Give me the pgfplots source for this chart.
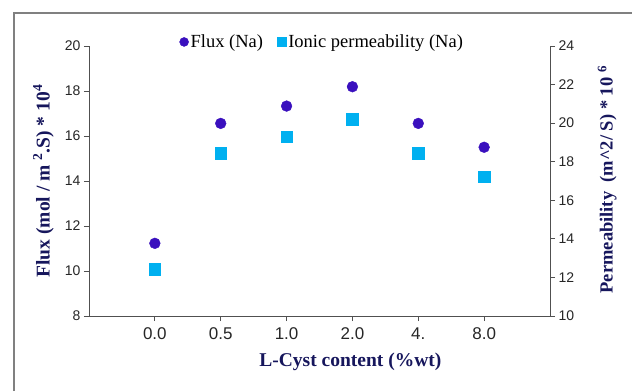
\documentclass[border=0pt]{standalone}
\usepackage{pgfplots}
\pgfplotsset{compat=1.18}
\usepackage{fontspec}
\setmainfont{Liberation Serif}
\newfontfamily\arial{Liberation Sans}
\definecolor{fluxc}{RGB}{58,16,190}
\definecolor{permc}{RGB}{0,176,240}
\definecolor{navy}{RGB}{22,22,92}
\definecolor{axc}{RGB}{80,80,80}
\definecolor{framec}{RGB}{128,128,128}
\begin{document}
\begin{tikzpicture}[x=1pt,y=1pt]
\useasboundingbox (0,0) rectangle (632,391);
\draw[framec,line width=1.2pt] (14,0) -- (14,378) -- (632,378);
\begin{axis}[
  at={(89pt,75pt)}, anchor=south west,
  scale only axis, width=461pt, height=270pt,
  xmin=-1, xmax=6, ymin=8, ymax=20,
  axis x line*=bottom, axis y line*=left,
  axis line style={axc,line width=0.9pt},
  xtick={0,1,2,3,4,5},
  xticklabels={0.0,0.5,1.0,2.0,4.,8.0},
  ytick={8,10,12,14,16,18,20},
  tick style={axc,line width=0.9pt},
  major tick length=5pt,
  tick align=outside,
  x tick label style={font=\arial\fontsize{17}{18}\selectfont, text=black!85, yshift=-3pt},
  y tick label style={font=\arial\fontsize{14}{15}\selectfont, text=black!85},
  /pgf/number format/assume math mode=true,
  xlabel={L-Cyst content (\%wt)},
  xlabel style={font=\bfseries\fontsize{19.5}{20}\selectfont, text=navy, at={(axis description cs:0.567,-0.17)}, anchor=center},
  ylabel={Flux (mol / m \textsuperscript{2}.S) * 10\textsuperscript{4}},
  ylabel style={font=\bfseries\fontsize{19.5}{20}\selectfont, text=navy, at={(axis description cs:-0.099,0.5)}, anchor=center, rotate=0},
  clip=false,
]
\addplot[only marks, mark=*, mark size=5.4pt, fluxc, mark options={draw=fluxc,fill=fluxc}] coordinates {
(0,11.23) (1,16.56) (2,17.33) (3,18.19) (4,16.56) (5,15.5)};
\end{axis}
\begin{axis}[
  at={(89pt,75pt)}, anchor=south west,
  scale only axis, width=461pt, height=270pt,
  xmin=-1, xmax=6, ymin=10, ymax=24,
  axis x line=none, axis y line*=right,
  axis line style={axc,line width=0.9pt},
  ytick={10,12,14,16,18,20,22,24},
  tick style={axc,line width=0.9pt},
  major tick length=5pt,
  tick align=outside,
  y tick label style={font=\arial\fontsize{14}{15}\selectfont, text=black!85},
  /pgf/number format/assume math mode=true,
  ylabel={Permeability\ \ (m\^{}2/ S) * 10 \textsuperscript{6}},
  ylabel style={font=\bfseries\fontsize{18.5}{19}\selectfont, text=navy, at={(axis description cs:1.124,0.505)}, anchor=center, rotate=0},
  legend style={draw=none, fill=none, font=\fontsize{18.5}{19}\selectfont, at={(axis description cs:0.506,1.015)}, anchor=center, /tikz/every even column/.append style={column sep=12pt}},
  legend columns=2,
  legend image code/.code={\draw[#1] plot coordinates {(0pt,0pt)};},
  clip=false,
]
\addlegendimage{only marks, mark=*, mark size=4.5pt, fluxc, mark options={draw=fluxc,fill=fluxc}}
\addlegendentry{Flux (Na)}
\addlegendimage{only marks, mark=square*, mark size=4.6pt, permc, mark options={draw=permc,fill=permc}}
\addlegendentry{Ionic permeability (Na)}
\addplot[only marks, mark=square*, mark size=5.8pt, permc, mark options={draw=permc,fill=permc}, forget plot] coordinates {
(0,12.44) (1,18.43) (2,19.3) (3,20.21) (4,18.43) (5,17.22)};
\end{axis}
\end{tikzpicture}
\end{document}
